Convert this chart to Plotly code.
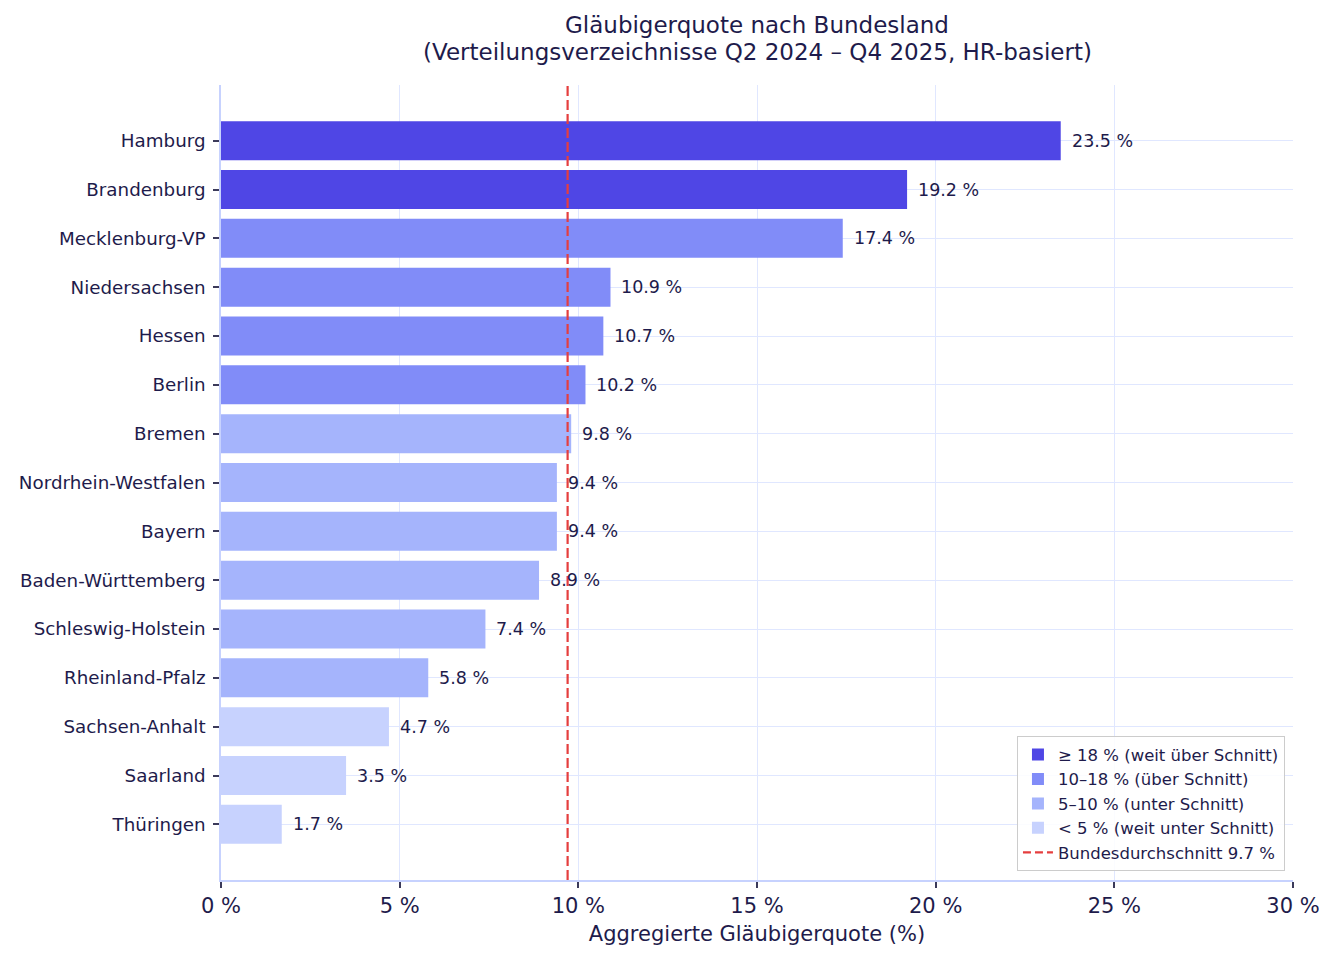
import plotly.graph_objects as go

states = ["Hamburg", "Brandenburg", "Mecklenburg-VP", "Niedersachsen", "Hessen", "Berlin",
          "Bremen", "Nordrhein-Westfalen", "Bayern", "Baden-Württemberg", "Schleswig-Holstein",
          "Rheinland-Pfalz", "Sachsen-Anhalt", "Saarland", "Thüringen"]
quote = [23.5, 19.2, 17.4, 10.9, 10.7, 10.2, 9.8, 9.4, 9.4, 8.9, 7.4, 5.8, 4.7, 3.5, 1.7]
average = 9.7

groups = [
    ("≥ 18 % (weit über Schnitt)", "#4F46E5", lambda v: v >= 18),
    ("10–18 % (über Schnitt)", "#818CF8", lambda v: 10 <= v < 18),
    ("5–10 % (unter Schnitt)", "#A5B4FC", lambda v: 5 <= v < 10),
    ("< 5 % (weit unter Schnitt)", "#C7D2FE", lambda v: v < 5),
]
x_ticks = [0, 5, 10, 15, 20, 25, 30]
x_ticklabels = [f"{t} %" for t in x_ticks]
title_lines = ["Gläubigerquote nach Bundesland",
               "(Verteilungsverzeichnisse Q2 2024 – Q4 2025, HR-basiert)"]

TXT = "#1E1B4B"
FONT = "DejaVu Sans"
RED = "#E53E3E"

fig = go.Figure()
for name, color, cond in groups:
    ys = [s for s, v in zip(states, quote) if cond(v)]
    xs = [v for v in quote if cond(v)]
    fig.add_trace(go.Bar(
        x=xs, y=ys, orientation="h", name=name, marker=dict(color=color, line=dict(width=0)),
        width=0.8, hoverinfo="x+y"))

fig.add_trace(go.Scatter(
    x=[None], y=[None], mode="lines", name=f"Bundesdurchschnitt {average} %",
    line=dict(color=RED, width=2.2, dash="8px,4px")))

fig.add_shape(type="line", x0=average, x1=average, y0=0, y1=1, xref="x", yref="paper",
              line=dict(color=RED, width=2.2, dash="10px,4px"), layer="above")

for s, v in zip(states, quote):
    fig.add_annotation(x=v, y=s, text=f"{v} %", xanchor="left", yanchor="middle",
                       xshift=9, showarrow=False, font=dict(size=17.5, color=TXT, family=FONT))

for line, shift in zip(title_lines, [60, 33]):
    fig.add_annotation(
        text=line, x=0.5, xref="paper", xanchor="center", y=1, yref="paper", yanchor="middle",
        yshift=shift, showarrow=False, font=dict(size=23, color=TXT, family=FONT))

fig.update_layout(
    width=1326, height=950,
    margin=dict(l=213, r=41, t=77, b=78),
    paper_bgcolor="white", plot_bgcolor="white",
    barmode="overlay",
    font=dict(family=FONT, color=TXT),
    xaxis=dict(range=[0, 30], tickvals=x_ticks, ticktext=x_ticklabels,
               showgrid=True, gridcolor="#E0E7FF", gridwidth=1,
               showline=True, linecolor="#C7D2FE", linewidth=1.5,
               ticks="outside", ticklen=6, tickcolor="#3B3A5A", tickwidth=1.5,
               tickfont=dict(size=21, color=TXT), zeroline=False,
               title=dict(text="Aggregierte Gläubigerquote (%)", font=dict(size=21, color=TXT), standoff=9)),
    yaxis=dict(categoryorder="array", categoryarray=states, autorange=False,
               range=[14 + 1.14, -1.14],
               showgrid=True, gridcolor="#E0E7FF", gridwidth=1,
               showline=True, linecolor="#C7D2FE", linewidth=1.5,
               ticks="outside", ticklen=6, tickcolor="#3B3A5A", tickwidth=1.5,
               ticklabelstandoff=4,
               tickfont=dict(size=18.3, color=TXT), zeroline=False),
    legend=dict(x=0.9925, y=0.011, xanchor="right", yanchor="bottom",
                bgcolor="rgba(255,255,255,0.85)", bordercolor="#CCCCCC", borderwidth=1,
                font=dict(size=16.5, color=TXT, family=FONT), tracegroupgap=0),
    showlegend=True,
)

fig.write_html("out.html")
